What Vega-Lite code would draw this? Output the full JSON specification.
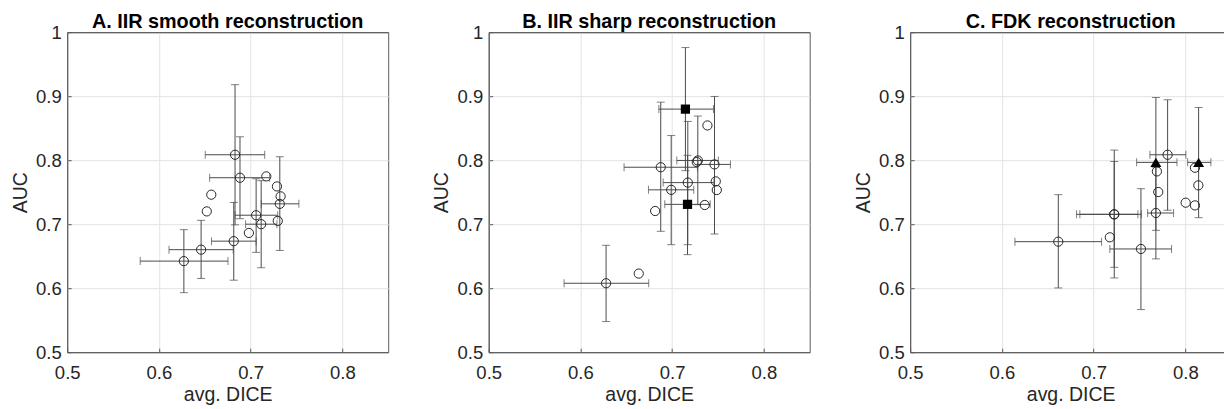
{
  "$schema": "https://vega.github.io/schema/vega-lite/v6.json",
  "autosize": {"type": "pad"},
  "padding": {"left": 9.2, "top": 11.2, "right": 0, "bottom": 0},
  "background": "white",
  "bounds": "flush",
  "spacing": 100.5,
  "config": {
    "font": "Liberation Sans",
    "view": {"stroke": "#5c5c5c", "strokeWidth": 1},
    "axis": {
      "grid": true, "gridWidth": 1,
      "domain": false,
      "format": "~g",
      "labelFlush": false,
      "ticks": true, "tickColor": "#5c5c5c", "tickSize": -4, "tickWidth": 1,
      "labelFont": "Liberation Sans", "labelFontSize": 18.5, "labelColor": "#262626", "labelPadding": 10,
      "titleFont": "Liberation Sans", "titleFontSize": 19.5, "titleFontWeight": "normal", "titleColor": "#262626"
    },
    "axisX": {"titlePadding": 4, "labelPadding": 15, "gridColor": {"condition": {"test": "datum.value == 0.5", "value": "#5c5c5c"}, "value": "#e3e3e3"}},
    "axisY": {"titleX": -41, "titleBaseline": "alphabetic", "gridColor": {"condition": {"test": "datum.value == 0.5 || datum.value == 1", "value": "#5c5c5c"}, "value": "#e3e3e3"}},
    "title": {"font": "Liberation Sans", "fontSize": 19.8, "fontWeight": "bold", "color": "#000000", "anchor": "middle", "frame": "group", "offset": -8.4}
  },
  "datasets": {
    "pts": [
      {"p": "A", "m": "o", "dice": 0.683, "auc": 0.8085, "dlo": 0.6505, "dhi": 0.7153, "alo": 0.699, "ahi": 0.918},
      {"p": "A", "m": "o", "dice": 0.6884, "auc": 0.7726, "dlo": 0.6553, "dhi": 0.7207, "alo": 0.7086, "ahi": 0.8366},
      {"p": "A", "m": "o", "dice": 0.7318, "auc": 0.7318, "dlo": 0.7116, "dhi": 0.7526, "alo": 0.659, "ahi": 0.8054},
      {"p": "A", "m": "o", "dice": 0.706, "auc": 0.714, "dlo": 0.683, "dhi": 0.7295, "alo": 0.656, "ahi": 0.771},
      {"p": "A", "m": "o", "dice": 0.7115, "auc": 0.7, "dlo": 0.6945, "dhi": 0.7287, "alo": 0.632, "ahi": 0.768},
      {"p": "A", "m": "o", "dice": 0.6816, "auc": 0.6735, "dlo": 0.6573, "dhi": 0.706, "alo": 0.6125, "ahi": 0.734},
      {"p": "A", "m": "o", "dice": 0.646, "auc": 0.6602, "dlo": 0.611, "dhi": 0.681, "alo": 0.6152, "ahi": 0.706},
      {"p": "A", "m": "o", "dice": 0.6272, "auc": 0.6423, "dlo": 0.5796, "dhi": 0.6753, "alo": 0.593, "ahi": 0.6915},
      {"p": "A", "m": "o", "dice": 0.7171, "auc": 0.7747},
      {"p": "A", "m": "o", "dice": 0.7287, "auc": 0.759},
      {"p": "A", "m": "o", "dice": 0.7327, "auc": 0.7435},
      {"p": "A", "m": "o", "dice": 0.7296, "auc": 0.7052},
      {"p": "A", "m": "o", "dice": 0.6981, "auc": 0.6863},
      {"p": "A", "m": "o", "dice": 0.6571, "auc": 0.7461},
      {"p": "A", "m": "o", "dice": 0.6522, "auc": 0.72},
      {"p": "B", "m": "s", "dice": 0.7145, "auc": 0.8798, "dlo": 0.6855, "dhi": 0.7451, "alo": 0.7836, "ahi": 0.976},
      {"p": "B", "m": "s", "dice": 0.7168, "auc": 0.731, "dlo": 0.692, "dhi": 0.7415, "alo": 0.6524, "ahi": 0.8076},
      {"p": "B", "m": "o", "dice": 0.6876, "auc": 0.789, "dlo": 0.6476, "dhi": 0.7276, "alo": 0.6889, "ahi": 0.8907},
      {"p": "B", "m": "o", "dice": 0.699, "auc": 0.7537, "dlo": 0.6742, "dhi": 0.7236, "alo": 0.668, "ahi": 0.8385},
      {"p": "B", "m": "o", "dice": 0.7171, "auc": 0.765, "dlo": 0.6902, "dhi": 0.7455, "alo": 0.668, "ahi": 0.8606},
      {"p": "B", "m": "o", "dice": 0.728, "auc": 0.7996, "dlo": 0.7051, "dhi": 0.7504, "alo": 0.7305, "ahi": 0.869},
      {"p": "B", "m": "o", "dice": 0.7462, "auc": 0.7934, "dlo": 0.728, "dhi": 0.7636, "alo": 0.6847, "ahi": 0.8996},
      {"p": "B", "m": "o", "dice": 0.628, "auc": 0.6077, "dlo": 0.5822, "dhi": 0.6745, "alo": 0.5479, "ahi": 0.667},
      {"p": "B", "m": "o", "dice": 0.7385, "auc": 0.8543},
      {"p": "B", "m": "o", "dice": 0.7476, "auc": 0.7669},
      {"p": "B", "m": "o", "dice": 0.7487, "auc": 0.7534},
      {"p": "B", "m": "o", "dice": 0.7356, "auc": 0.73},
      {"p": "B", "m": "o", "dice": 0.6815, "auc": 0.7206},
      {"p": "B", "m": "o", "dice": 0.6636, "auc": 0.6228},
      {"p": "B", "m": "o", "dice": 0.7269, "auc": 0.7971},
      {"p": "C", "m": "o", "dice": 0.6615, "auc": 0.6727, "dlo": 0.6142, "dhi": 0.7087, "alo": 0.6004, "ahi": 0.7461},
      {"p": "C", "m": "o", "dice": 0.7225, "auc": 0.7154, "dlo": 0.6814, "dhi": 0.7483, "alo": 0.616, "ahi": 0.8158},
      {"p": "C", "m": "o", "dice": 0.7225, "auc": 0.7154, "dlo": 0.685, "dhi": 0.752, "alo": 0.6326, "ahi": 0.798},
      {"p": "C", "m": "o", "dice": 0.7516, "auc": 0.6613, "dlo": 0.7177, "dhi": 0.785, "alo": 0.5666, "ahi": 0.7555},
      {"p": "C", "m": "o", "dice": 0.7679, "auc": 0.7175, "dlo": 0.7589, "dhi": 0.7872, "alo": 0.6458, "ahi": 0.789},
      {"p": "C", "m": "o", "dice": 0.7807, "auc": 0.8085, "dlo": 0.7614, "dhi": 0.8006, "alo": 0.7216, "ahi": 0.8944},
      {"p": "C", "m": "t", "dice": 0.7679, "auc": 0.7966, "dlo": 0.7469, "dhi": 0.7909, "alo": 0.6904, "ahi": 0.898},
      {"p": "C", "m": "t", "dice": 0.8145, "auc": 0.7966, "dlo": 0.8025, "dhi": 0.8279, "alo": 0.7102, "ahi": 0.8824},
      {"p": "C", "m": "o", "dice": 0.7177, "auc": 0.6795},
      {"p": "C", "m": "o", "dice": 0.769, "auc": 0.7825},
      {"p": "C", "m": "o", "dice": 0.7705, "auc": 0.7503},
      {"p": "C", "m": "o", "dice": 0.8105, "auc": 0.7882},
      {"p": "C", "m": "o", "dice": 0.8142, "auc": 0.7607},
      {"p": "C", "m": "o", "dice": 0.8004, "auc": 0.7336},
      {"p": "C", "m": "o", "dice": 0.8105, "auc": 0.7294}
    ]
  },
  "data": {"name": "pts"},
  "hconcat": [
    {
      "width": 321, "height": 320,
      "title": {"text": "A. IIR smooth reconstruction"},
      "transform": [{"filter": "datum.p == 'A'"}],
      "layer": [
        {"transform": [{"filter": "isValid(datum.alo)"}], "mark": {"type": "rule", "color": "#4a4a4a", "strokeWidth": 1},
         "encoding": {
           "x": {"field": "dice", "type": "quantitative", "scale": {"domain": [0.5, 0.85], "nice": false, "zero": false}, "axis": {"title": "avg. DICE", "values": [0.5, 0.6, 0.7, 0.8]}},
           "y": {"field": "alo", "type": "quantitative", "scale": {"domain": [0.5, 1], "nice": false, "zero": false}, "axis": {"title": "AUC", "values": [0.5, 0.6, 0.7, 0.8, 0.9, 1]}},
           "y2": {"field": "ahi"}}},
        {"transform": [{"filter": "isValid(datum.dlo)"}], "mark": {"type": "rule", "color": "#4a4a4a", "strokeWidth": 1},
         "encoding": {"x": {"field": "dlo", "type": "quantitative"}, "x2": {"field": "dhi"}, "y": {"field": "auc", "type": "quantitative"}}},
        {"transform": [{"filter": "isValid(datum.alo)"}], "mark": {"type": "tick", "orient": "horizontal", "size": 8, "thickness": 1, "color": "#4a4a4a"},
         "encoding": {"x": {"field": "dice", "type": "quantitative"}, "y": {"field": "alo", "type": "quantitative"}}},
        {"transform": [{"filter": "isValid(datum.ahi)"}], "mark": {"type": "tick", "orient": "horizontal", "size": 8, "thickness": 1, "color": "#4a4a4a"},
         "encoding": {"x": {"field": "dice", "type": "quantitative"}, "y": {"field": "ahi", "type": "quantitative"}}},
        {"transform": [{"filter": "isValid(datum.dlo)"}], "mark": {"type": "tick", "orient": "vertical", "size": 8, "thickness": 1, "color": "#4a4a4a"},
         "encoding": {"x": {"field": "dlo", "type": "quantitative"}, "y": {"field": "auc", "type": "quantitative"}}},
        {"transform": [{"filter": "isValid(datum.dhi)"}], "mark": {"type": "tick", "orient": "vertical", "size": 8, "thickness": 1, "color": "#4a4a4a"},
         "encoding": {"x": {"field": "dhi", "type": "quantitative"}, "y": {"field": "auc", "type": "quantitative"}}},
        {"transform": [{"filter": "datum.m == 'o'"}], "mark": {"type": "point", "shape": "circle", "filled": false, "size": 85, "stroke": "#262626", "strokeWidth": 1, "opacity": 1},
         "encoding": {"x": {"field": "dice", "type": "quantitative"}, "y": {"field": "auc", "type": "quantitative"}}},
        {"transform": [{"filter": "datum.m == 's'"}], "mark": {"type": "point", "shape": "square", "filled": true, "size": 85, "color": "#000000", "opacity": 1},
         "encoding": {"x": {"field": "dice", "type": "quantitative"}, "y": {"field": "auc", "type": "quantitative"}}},
        {"transform": [{"filter": "datum.m == 't'"}], "mark": {"type": "point", "shape": "triangle-up", "filled": true, "size": 120, "color": "#000000", "opacity": 1},
         "encoding": {"x": {"field": "dice", "type": "quantitative"}, "y": {"field": "auc", "type": "quantitative"}}}
      ]
    },
    {
      "width": 321, "height": 320,
      "title": {"text": "B. IIR sharp reconstruction"},
      "transform": [{"filter": "datum.p == 'B'"}],
      "layer": [
        {"transform": [{"filter": "isValid(datum.alo)"}], "mark": {"type": "rule", "color": "#4a4a4a", "strokeWidth": 1},
         "encoding": {
           "x": {"field": "dice", "type": "quantitative", "scale": {"domain": [0.5, 0.85], "nice": false, "zero": false}, "axis": {"title": "avg. DICE", "values": [0.5, 0.6, 0.7, 0.8]}},
           "y": {"field": "alo", "type": "quantitative", "scale": {"domain": [0.5, 1], "nice": false, "zero": false}, "axis": {"title": "AUC", "values": [0.5, 0.6, 0.7, 0.8, 0.9, 1]}},
           "y2": {"field": "ahi"}}},
        {"transform": [{"filter": "isValid(datum.dlo)"}], "mark": {"type": "rule", "color": "#4a4a4a", "strokeWidth": 1},
         "encoding": {"x": {"field": "dlo", "type": "quantitative"}, "x2": {"field": "dhi"}, "y": {"field": "auc", "type": "quantitative"}}},
        {"transform": [{"filter": "isValid(datum.alo)"}], "mark": {"type": "tick", "orient": "horizontal", "size": 8, "thickness": 1, "color": "#4a4a4a"},
         "encoding": {"x": {"field": "dice", "type": "quantitative"}, "y": {"field": "alo", "type": "quantitative"}}},
        {"transform": [{"filter": "isValid(datum.ahi)"}], "mark": {"type": "tick", "orient": "horizontal", "size": 8, "thickness": 1, "color": "#4a4a4a"},
         "encoding": {"x": {"field": "dice", "type": "quantitative"}, "y": {"field": "ahi", "type": "quantitative"}}},
        {"transform": [{"filter": "isValid(datum.dlo)"}], "mark": {"type": "tick", "orient": "vertical", "size": 8, "thickness": 1, "color": "#4a4a4a"},
         "encoding": {"x": {"field": "dlo", "type": "quantitative"}, "y": {"field": "auc", "type": "quantitative"}}},
        {"transform": [{"filter": "isValid(datum.dhi)"}], "mark": {"type": "tick", "orient": "vertical", "size": 8, "thickness": 1, "color": "#4a4a4a"},
         "encoding": {"x": {"field": "dhi", "type": "quantitative"}, "y": {"field": "auc", "type": "quantitative"}}},
        {"transform": [{"filter": "datum.m == 'o'"}], "mark": {"type": "point", "shape": "circle", "filled": false, "size": 85, "stroke": "#262626", "strokeWidth": 1, "opacity": 1},
         "encoding": {"x": {"field": "dice", "type": "quantitative"}, "y": {"field": "auc", "type": "quantitative"}}},
        {"transform": [{"filter": "datum.m == 's'"}], "mark": {"type": "point", "shape": "square", "filled": true, "size": 85, "color": "#000000", "opacity": 1},
         "encoding": {"x": {"field": "dice", "type": "quantitative"}, "y": {"field": "auc", "type": "quantitative"}}},
        {"transform": [{"filter": "datum.m == 't'"}], "mark": {"type": "point", "shape": "triangle-up", "filled": true, "size": 120, "color": "#000000", "opacity": 1},
         "encoding": {"x": {"field": "dice", "type": "quantitative"}, "y": {"field": "auc", "type": "quantitative"}}}
      ]
    },
    {
      "width": 321, "height": 320,
      "title": {"text": "C. FDK reconstruction"},
      "transform": [{"filter": "datum.p == 'C'"}],
      "layer": [
        {"transform": [{"filter": "isValid(datum.alo)"}], "mark": {"type": "rule", "color": "#4a4a4a", "strokeWidth": 1},
         "encoding": {
           "x": {"field": "dice", "type": "quantitative", "scale": {"domain": [0.5, 0.85], "nice": false, "zero": false}, "axis": {"title": "avg. DICE", "values": [0.5, 0.6, 0.7, 0.8]}},
           "y": {"field": "alo", "type": "quantitative", "scale": {"domain": [0.5, 1], "nice": false, "zero": false}, "axis": {"title": "AUC", "values": [0.5, 0.6, 0.7, 0.8, 0.9, 1]}},
           "y2": {"field": "ahi"}}},
        {"transform": [{"filter": "isValid(datum.dlo)"}], "mark": {"type": "rule", "color": "#4a4a4a", "strokeWidth": 1},
         "encoding": {"x": {"field": "dlo", "type": "quantitative"}, "x2": {"field": "dhi"}, "y": {"field": "auc", "type": "quantitative"}}},
        {"transform": [{"filter": "isValid(datum.alo)"}], "mark": {"type": "tick", "orient": "horizontal", "size": 8, "thickness": 1, "color": "#4a4a4a"},
         "encoding": {"x": {"field": "dice", "type": "quantitative"}, "y": {"field": "alo", "type": "quantitative"}}},
        {"transform": [{"filter": "isValid(datum.ahi)"}], "mark": {"type": "tick", "orient": "horizontal", "size": 8, "thickness": 1, "color": "#4a4a4a"},
         "encoding": {"x": {"field": "dice", "type": "quantitative"}, "y": {"field": "ahi", "type": "quantitative"}}},
        {"transform": [{"filter": "isValid(datum.dlo)"}], "mark": {"type": "tick", "orient": "vertical", "size": 8, "thickness": 1, "color": "#4a4a4a"},
         "encoding": {"x": {"field": "dlo", "type": "quantitative"}, "y": {"field": "auc", "type": "quantitative"}}},
        {"transform": [{"filter": "isValid(datum.dhi)"}], "mark": {"type": "tick", "orient": "vertical", "size": 8, "thickness": 1, "color": "#4a4a4a"},
         "encoding": {"x": {"field": "dhi", "type": "quantitative"}, "y": {"field": "auc", "type": "quantitative"}}},
        {"transform": [{"filter": "datum.m == 'o'"}], "mark": {"type": "point", "shape": "circle", "filled": false, "size": 85, "stroke": "#262626", "strokeWidth": 1, "opacity": 1},
         "encoding": {"x": {"field": "dice", "type": "quantitative"}, "y": {"field": "auc", "type": "quantitative"}}},
        {"transform": [{"filter": "datum.m == 's'"}], "mark": {"type": "point", "shape": "square", "filled": true, "size": 85, "color": "#000000", "opacity": 1},
         "encoding": {"x": {"field": "dice", "type": "quantitative"}, "y": {"field": "auc", "type": "quantitative"}}},
        {"transform": [{"filter": "datum.m == 't'"}], "mark": {"type": "point", "shape": "triangle-up", "filled": true, "size": 120, "color": "#000000", "opacity": 1},
         "encoding": {"x": {"field": "dice", "type": "quantitative"}, "y": {"field": "auc", "type": "quantitative"}}}
      ]
    }
  ]
}
